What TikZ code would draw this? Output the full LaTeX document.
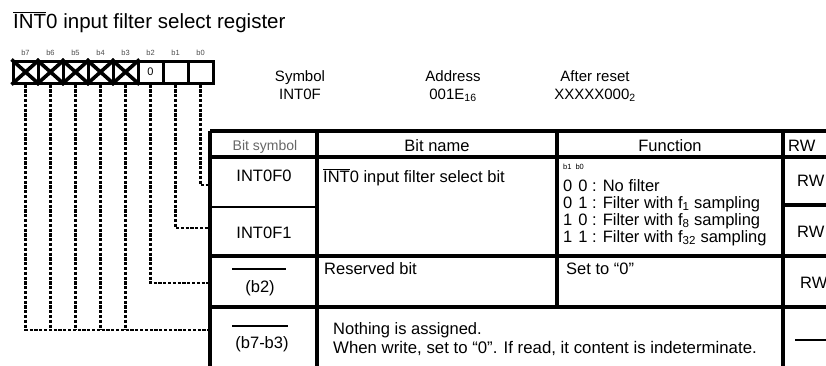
\documentclass[tikz,border=0pt]{standalone}
\usepackage{fontspec}
\setmainfont{Liberation Sans}
\newcommand\ovl[1]{\ensuremath{\overline{\mbox{#1}}}}
\begin{document}
\begin{tikzpicture}[x=1pt,y=-1pt,
  tk/.style={line width=3.2pt},
  tn/.style={line width=1.6pt},
  conn/.style={line width=2.5pt, dash pattern=on 3.2pt off 1.6pt},
  regcell/.style={draw, line width=3pt, minimum width=25pt, minimum height=22pt, inner sep=0pt, font=\fontsize{11}{12}\selectfont},
  xmark/.style={line width=3.6pt},
  bitlbl/.style={inner sep=0pt, font=\fontsize{7.5}{8}\selectfont, text=black!70, anchor=base},
  body/.style={inner sep=0pt, font=\fontsize{16.5}{17}\selectfont},
  hdr/.style={inner sep=0pt, font=\fontsize{15}{17}\selectfont, anchor=base},
  titlefont/.style={inner sep=0pt, font=\fontsize{20.5}{22}\selectfont},
]
\useasboundingbox (0,0) rectangle (826,365);
\clip (0,0) rectangle (826,365);

% title
\node[titlefont, anchor=base west] (title) at (13,28) {\ovl{INT}0 input filter select register};

% register cells
\foreach \i/\x in {7/25.5,6/50.5,5/75.5,4/100.5,3/125.5,2/150.5,1/175.5,0/200.5}{
  \node[regcell] (c\i) at (\x,72) {};
  \node[bitlbl] (l\i) at (\x,55) {b\i};
}
\node[inner sep=0pt, font=\fontsize{11}{12}\selectfont] (z2) at (c2) {0};
\foreach \i in {7,6,5,4,3}{
  \draw[xmark] (c\i.north west) -- (c\i.south east) (c\i.north east) -- (c\i.south west);
}

% symbol / address / reset
\node[hdr] (sym) at (300,81) {Symbol};
\node[hdr] (symv) at (300,99) {INT0F};
\node[hdr] (adr) at (453,81) {Address};
\node[hdr] (adrv) at (453,99) {001E\textsubscript{16}};
\node[hdr] (rst) at (595,81) {After reset};
\node[hdr] (rstv) at (595,99) {XXXXX000\textsubscript{2}};

% table grid
\draw[tk] (210,131) -- (830,131);
\draw[tk] (210,157) -- (830,157);
\draw[tk] (210,256) -- (830,256);
\draw[tk] (210,307) -- (830,307);
\draw[tn] (210,207) -- (317,207);
\draw[tk] (783,205) -- (830,205);
\draw[tk] (210,131) -- (210,370);
\draw[tk] (317,131) -- (317,370);
\draw[tk] (557,131) -- (557,307);
\draw[tk] (783,131) -- (783,370);

% header
\node[hdr, text=black!60, font=\fontsize{14}{16}\selectfont] (h1) at (265,150) {Bit symbol};
\node[body, anchor=base] (h2) at (437,151) {Bit name};
\node[body, anchor=base] (h3) at (670,151) {Function};
\node[body, anchor=base west] (h4) at (788,151) {RW};

% rows
\node[body, anchor=base] (s0) at (264,181) {INT0F0};
\node[body, anchor=base] (s1) at (264,238) {INT0F1};
\draw[line width=2pt] (232,269) -- (286,269);
\node[body, anchor=base] (s2) at (260,292) {(b2)};
\draw[line width=2pt] (232,326) -- (288,326);
\node[body, anchor=base] (s3) at (262,348) {(b7-b3)};

\node[body, anchor=base west] (n0) at (323,182) {\ovl{INT}0 input filter select bit};
\node[body, anchor=base west] (n2) at (324,274) {Reserved bit};
\node[body, anchor=base west] (n3) at (333,334) {Nothing is assigned.};
\node[body, anchor=base west, font=\fontsize{16.8}{17}\selectfont] (n3b) at (333,353) {When write, set to ``0''. If read, it content is indeterminate.};

\node[inner sep=0pt, font=\fontsize{7.5}{8}\selectfont, anchor=base west] (fb) at (563,169) {b1\hspace{4pt}b0};
\node[body, anchor=base west] (f0) at (563,191) {0\hspace{6pt}0 : No filter};
\node[body, anchor=base west] (f1) at (563,208) {0\hspace{6pt}1 : Filter with f\textsubscript{1} sampling};
\node[body, anchor=base west] (f2) at (563,225) {1\hspace{6pt}0 : Filter with f\textsubscript{8} sampling};
\node[body, anchor=base west] (f3) at (563,242) {1\hspace{6pt}1 : Filter with f\textsubscript{32} sampling};
\node[body, anchor=base west] (f4) at (566,274) {Set to ``0''};

\node[body, anchor=base west] (r0) at (797,186) {RW};
\node[body, anchor=base west] (r1) at (797,237) {RW};
\node[body, anchor=base west] (r2) at (800,288) {RW};
\coordinate (d0) at (795,340);
\coordinate (d1) at (830,340);
\draw[line width=1.8pt] (d0) -- (d1);

% connectors
\coordinate (e0) at (210,185);
\coordinate (e1) at (210,228);
\coordinate (e2) at (210,283);
\coordinate (e3) at (210,330);
\draw[conn] (c0.south) |- (e0);
\draw[conn] (c1.south) |- (e1);
\draw[conn] (c2.south) |- (e2);
\draw[conn] (c7.south) |- (e3);
\foreach \i in {6,5,4,3}{
  \draw[conn] (c\i.south) -- (c\i.south |- e3);
}
\end{tikzpicture}
\end{document}
